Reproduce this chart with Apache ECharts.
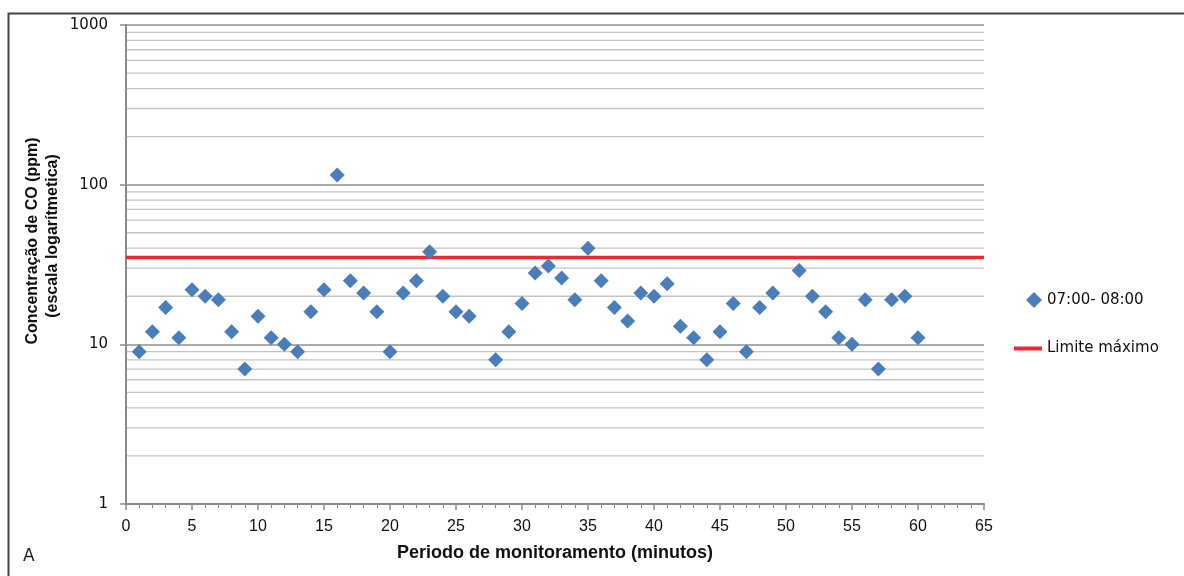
<!DOCTYPE html>
<html><head><meta charset="utf-8">
<script src="https://cdn.jsdelivr.net/npm/echarts@6/dist/echarts.min.js"></script>
<style>html,body{margin:0;padding:0;background:#fff}#c{width:1184px;height:576px}</style>
</head><body><div id="c"></div>
<script>
// ---- data ----
const minutes = [1,2,3,4,5,6,7,8,9,10,11,12,13,14,15,16,17,18,19,20,21,22,23,24,25,26,28,29,30,31,32,33,34,35,36,37,38,39,40,41,42,43,44,45,46,47,48,49,51,52,53,54,55,56,57,58,59,60];
const co0700_0800 = [9,12,17,11,22,20,19,12,7,15,11,10,9,16,22,115,25,21,16,9,21,25,38,20,16,15,8,12,18,28,31,26,19,40,25,17,14,21,20,24,13,11,8,12,18,9,17,21,29,20,16,11,10,19,7,19,20,11];
const limitValue = 35;
const seriesNames = ['07:00- 08:00', 'Limite máximo'];
const xMin = 0, xMax = 65, xInterval = 5;
const yMin = 1, yMax = 1000;
const yTitleLines = ['Concentração de CO (ppm)', '(escala logarítmetica)'];
const xTitle = 'Periodo de monitoramento (minutos)';
const panelLabel = 'A';

// minor log gridlines (2..9 within each decade)
const minorGrid = [];
for (let d = yMin; d < yMax; d *= 10) for (let k = 2; k <= 9; k++) minorGrid.push(d * k);

const scatterData = minutes.map((m, i) => [m, co0700_0800[i]]);
const limitData = [[xMin, limitValue], [xMax, limitValue]];

const chart = echarts.init(document.getElementById('c'), null, {renderer: 'canvas'});
chart.setOption({
  animation: false,
  backgroundColor: '#fff',
  grid: {left: 126, top: 25, width: 858, height: 479, containLabel: false},
  xAxis: {
    type: 'value', min: xMin, max: xMax, interval: xInterval,
    axisLine: {show: true, lineStyle: {color: '#8a8a8a', width: 2}},
    axisTick: {show: true, length: 6, lineStyle: {color: '#8a8a8a', width: 1.5}},
    minorTick: {show: true, splitNumber: 5, length: 4, lineStyle: {color: '#8a8a8a', width: 1}},
    splitLine: {show: false},
    axisLabel: {fontFamily: "'Liberation Sans Narrow', 'Liberation Sans', Arial, sans-serif", fontSize: 16, color: '#111', margin: 15},
    name: xTitle, nameLocation: 'middle', nameGap: 40,
    nameTextStyle: {fontFamily: "'Liberation Sans', Arial, sans-serif", fontWeight: 'bold', fontSize: 18, color: '#111'}
  },
  yAxis: {
    type: 'log', logBase: 10, min: yMin, max: yMax,
    axisLine: {show: true, lineStyle: {color: '#8a8a8a', width: 2}},
    axisTick: {show: true, length: 6, lineStyle: {color: '#8a8a8a', width: 1.5}},
    splitLine: {show: true, lineStyle: {color: '#8f8f8f', width: 1.5}},
    axisLabel: {fontFamily: "'DejaVu Sans', Verdana, sans-serif", fontSize: 15, color: '#111', margin: 18,
                formatter: function (v) { return String(Math.round(v)); }}
  },
  legend: [
    {data: [seriesNames[0]], orient: 'vertical', left: 1021, top: 287, icon: 'diamond',
     itemWidth: 16, itemHeight: 16, textStyle: {fontFamily: "'DejaVu Sans', Verdana, sans-serif", fontSize: 15, color: '#111'}},
    {data: [seriesNames[1]], orient: 'vertical', left: 1009, top: 336, icon: 'rect',
     itemWidth: 28, itemHeight: 4, textStyle: {fontFamily: "'DejaVu Sans', Verdana, sans-serif", fontSize: 15, color: '#111'}}
  ],
  graphic: [
    {type: 'rect', shape: {x: 8.5, y: 13.5, width: 1400, height: 800}, style: {fill: 'none', stroke: '#444', lineWidth: 2}, silent: true},
    {type: 'text', x: 23, y: 557, style: {text: panelLabel, fill: '#222', font: "17px 'DejaVu Sans', sans-serif", textVerticalAlign: 'middle'}},
    {type: 'text', x: 33, y: 241, rotation: Math.PI / 2, style: {text: yTitleLines[0], fill: '#111', font: "bold 16px 'Liberation Sans', Arial, sans-serif", textAlign: 'center', textVerticalAlign: 'middle'}},
    {type: 'text', x: 53, y: 236, rotation: Math.PI / 2, style: {text: yTitleLines[1], fill: '#111', font: "bold 16px 'Liberation Sans', Arial, sans-serif", textAlign: 'center', textVerticalAlign: 'middle'}}
  ],
  series: [
    {
      type: 'custom', name: 'minorGrid', silent: true, z: 0,
      data: minorGrid,
      renderItem: function (params, api) {
        const v = api.value(0);
        const p1 = api.coord([xMin, v]);
        const p2 = api.coord([xMax, v]);
        return {type: 'line', shape: {x1: p1[0], y1: p1[1], x2: p2[0], y2: p2[1]},
                style: {stroke: '#c4c4c4', lineWidth: 1.3}};
      },
      encode: {y: 0}
    },
    {
      type: 'line', name: seriesNames[1], data: limitData, showSymbol: false, symbol: 'none', z: 2,
      lineStyle: {color: '#ee2a2f', width: 3.5}, itemStyle: {color: '#ee2a2f'}
    },
    {
      type: 'scatter', name: seriesNames[0], data: scatterData, symbol: 'diamond', symbolSize: [15, 15], z: 3,
      itemStyle: {color: '#4a7ebb', opacity: 1}
    }
  ]
});
</script></body></html>
